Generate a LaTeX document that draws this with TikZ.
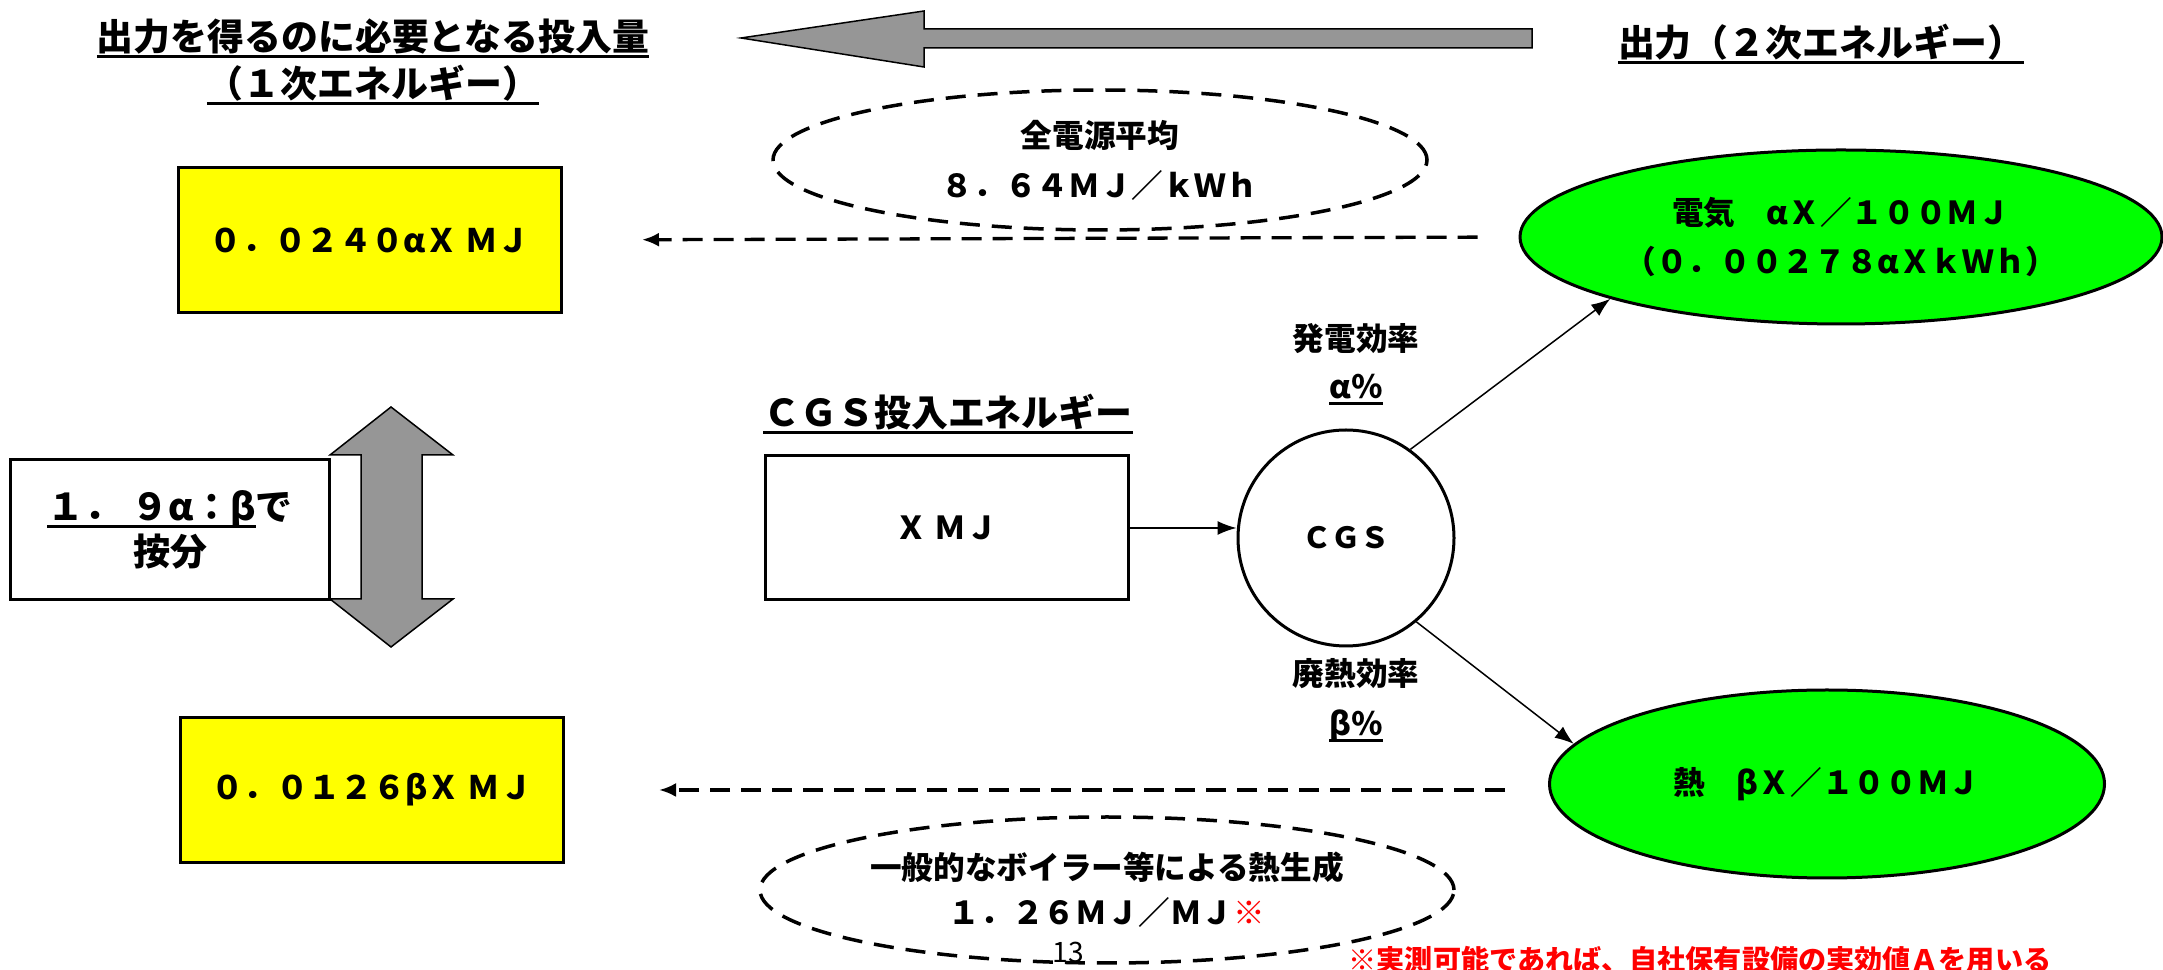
\documentclass[tikz,border=0pt]{standalone}
\usepackage{fontspec}
\usetikzlibrary{arrows.meta,shapes.geometric}
\newfontfamily\jp{Noto Sans CJK JP}
\newcommand{\ulin}[1]{\setbox0\hbox{#1}\leavevmode\rlap{\rule[-0.2em]{\wd0}{0.08em}}\box0}
\definecolor{boxyellow}{RGB}{255,255,0}
\definecolor{outgreen}{RGB}{0,255,0}
\definecolor{arrowgray}{RGB}{150,150,150}

\begin{document}
\begin{tikzpicture}[x=0.1mm,y=-0.1mm,
	every node/.style={font=\jp\bfseries,inner sep=0pt},
	titletext/.style={font=\jp\bfseries\fontsize{10.5}{12}\selectfont},
	labeltext/.style={font=\jp\bfseries\fontsize{9}{13.7}\selectfont,align=center},
	yellowbox/.style={rectangle,draw,line width=0.3mm,fill=boxyellow,minimum width=38.3mm,minimum height=14.5mm,font=\jp\bfseries\fontsize{9.2}{10}\selectfont},
	whitebox/.style={rectangle,draw,line width=0.3mm,fill=white},
	greenell/.style={ellipse,draw,line width=0.3mm,fill=outgreen,align=center,font=\jp\bfseries\fontsize{9}{14.2}\selectfont},
	dashell/.style={ellipse,draw,line width=0.35mm,dash pattern=on 2mm off 1.2mm,align=center,font=\jp\bfseries\fontsize{9}{14.2}\selectfont},
	dasharrow/.style={line width=0.33mm,dash pattern=on 2mm off 1.1mm,-{Latex[length=1.7mm,width=1.4mm]}},
	thinarrow/.style={line width=0.15mm,-{Latex[length=1.9mm,width=1.4mm]}},
	bigarrow/.style={draw,line width=0.15mm,fill=arrowgray}]
\useasboundingbox (0,0) rectangle (2163,970);

% headings
\node[titletext] (needtitle) at (373,38) {\ulin{出力を得るのに必要となる投入量}};
\node[titletext] (needsub) at (373,85) {\ulin{（１次エネルギー）}};
\node[titletext] (outtitle) at (1821,44) {\ulin{出力（２次エネルギー）}};
\node[titletext] (inputtitle) at (948,414) {\ulin{ＣＧＳ投入エネルギー}};

% big gray arrows
\draw[bigarrow] (741,38) -- (924,11) -- (924,29) -- (1532,29) -- (1532,48) -- (924,48) -- (924,67) -- cycle;
\draw[bigarrow] (391,407) -- (453,455) -- (422,455) -- (422,599) -- (453,599) -- (391,647)
	-- (330,599) -- (361,599) -- (361,455) -- (330,455) -- cycle;

% left column
\node[yellowbox] (primelec) at (370,240) {０．０２４０αＸ ＭＪ};
\node[yellowbox] (primheat) at (372,790) {０．０１２６βＸ ＭＪ};
\node[whitebox,minimum width=31.9mm,minimum height=14mm,align=center,font=\jp\bfseries\fontsize{10.5}{12.8}\selectfont] (ratio) at (170,530)
	{\ulin{１．\hspace{1mm}９α：β}で\\按分};

% middle
\node[whitebox,minimum width=36.3mm,minimum height=14.4mm,font=\jp\bfseries\fontsize{9}{10}\selectfont] (input) at (947,528) {Ｘ ＭＪ};
\node[circle,draw,line width=0.3mm,minimum size=21.6mm,font=\jp\bfseries\fontsize{8.3}{10}\selectfont] (cgs) at (1346,538) {ＣＧＳ};
\node[labeltext] (geneff) at (1356,364) {発電効率\\\ulin{α％}};
\node[labeltext,font=\jp\bfseries\fontsize{9}{14.2}\selectfont] (wasteeff) at (1356,700) {廃熱効率\\\ulin{β％}};

\node[dashell,minimum width=65.4mm,minimum height=14mm] (avg) at (1100,160)
	{全電源平均\\８．６４ＭＪ／ｋＷｈ};
\node[dashell,minimum width=69.4mm,minimum height=14.6mm,font=\jp\bfseries\fontsize{9}{12.8}\selectfont] (boiler) at (1107,890)
	{一般的なボイラー等による熱生成\\１．２６ＭＪ／ＭＪ\textcolor{red}{※}};

% outputs
\node[greenell,minimum width=64.2mm,minimum height=17.4mm] (elec) at (1841,237)
	{電気　αＸ／１００ＭＪ\\（０．００２７８αＸｋＷｈ）};
\node[greenell,minimum width=55.5mm,minimum height=18.8mm] (heat) at (1827,784)
	{熱　βＸ／１００ＭＪ};

% footnotes
\node[font=\jp\fontsize{8}{10}\selectfont] (pagenum) at (1068,952) {13};
\node[font=\jp\bfseries\fontsize{8}{10}\selectfont,text=red] (note) at (1700,960) {※実測可能であれば、自社保有設備の実効値Ａを用いる};

% connectors
\draw[dasharrow,shorten <=4.1mm,shorten >=7.9mm] (elec.west) -- (primelec.east);
\draw[dasharrow,shorten <=4.3mm,shorten >=9.4mm] (primheat.east -| heat.west) -- (primheat.east);
\draw[thinarrow] (input.east) -- (input.east -| cgs.west);
\draw[thinarrow] (cgs.54) -- (elec.195);
\draw[thinarrow] (cgs.310) -- (heat.171);
\end{tikzpicture}
\end{document}
